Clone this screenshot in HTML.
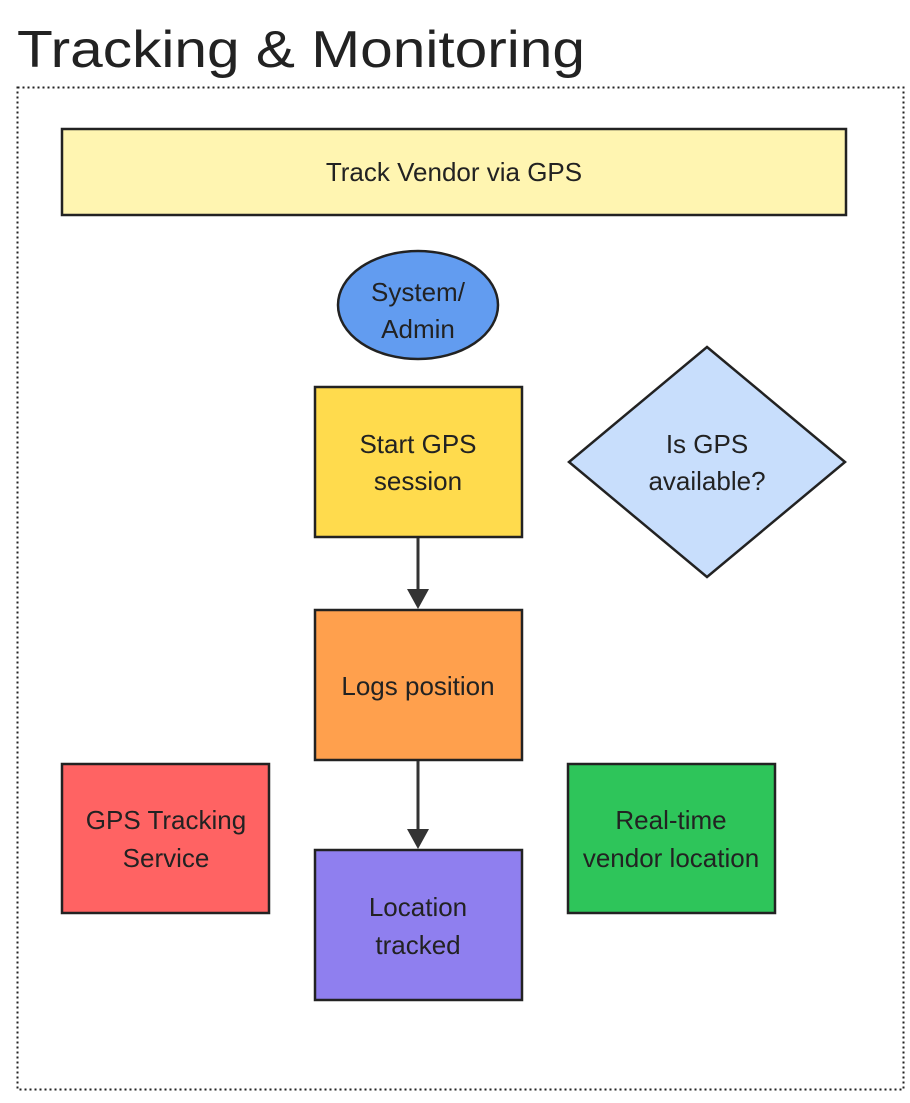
<!DOCTYPE html>
<html><head><meta charset="utf-8"><style>
body{margin:0;background:#fff;width:910px;height:1098px;overflow:hidden}
</style></head><body>
<svg width="910" height="1098" xmlns="http://www.w3.org/2000/svg" font-family="'Liberation Sans', sans-serif" fill="#222">
<text x="17" y="67" font-size="52" fill="#222" textLength="568" lengthAdjust="spacingAndGlyphs">Tracking &amp; Monitoring</text>
<rect x="17.5" y="87.5" width="886" height="1002" fill="none" stroke="#222" stroke-width="2" stroke-dasharray="2,3"/>
<g stroke="#222" stroke-width="2.5">
<rect x="62" y="129" width="784" height="86" fill="#fff5b1"/>
<ellipse cx="418" cy="305" rx="80" ry="54" fill="#629cf0"/>
<rect x="315" y="387" width="207" height="150" fill="#ffdb4d"/>
<polygon points="707,347 845,462 707,577 569,462" fill="#c8defc"/>
<rect x="315" y="610" width="207" height="150" fill="#ffa04d"/>
<rect x="315" y="850" width="207" height="150" fill="#8f7fef"/>
<rect x="62" y="764" width="207" height="149" fill="#ff6363"/>
<rect x="568" y="764" width="207" height="149" fill="#2ec55a"/>
</g>
<g stroke="#333" stroke-width="3" fill="none">
<line x1="418" y1="538" x2="418" y2="596"/>
<line x1="418" y1="761" x2="418" y2="836"/>
</g>
<polygon points="407,589 429,589 418,609" fill="#333"/>
<polygon points="407,829 429,829 418,849" fill="#333"/>
<g font-size="26" text-anchor="middle">
<text x="454" y="181">Track Vendor via GPS</text>
<text x="418" y="301">System/</text>
<text x="418" y="338">Admin</text>
<text x="418" y="453">Start GPS</text>
<text x="418" y="490">session</text>
<text x="707" y="453">Is GPS</text>
<text x="707" y="490">available?</text>
<text x="418" y="695">Logs position</text>
<text x="418" y="916">Location</text>
<text x="418" y="954">tracked</text>
<text x="166" y="829">GPS Tracking</text>
<text x="166" y="867">Service</text>
<text x="671" y="829">Real-time</text>
<text x="671" y="867">vendor location</text>
</g>
</svg>
</body></html>
